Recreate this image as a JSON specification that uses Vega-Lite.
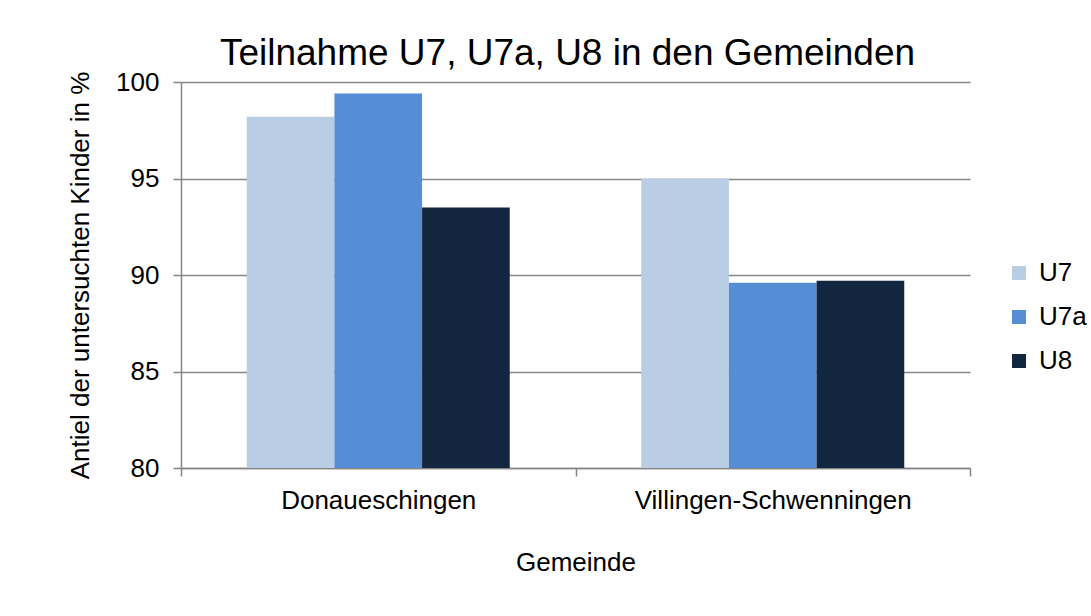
{
  "$schema": "https://vega.github.io/schema/vega-lite/v6.json",
  "autosize": {"type": "none"},
  "width": 789,
  "height": 386,
  "padding": {"left": 181, "top": 82, "right": 121, "bottom": 148},
  "background": "white",
  "config": {
    "font": "Liberation Sans",
    "view": {"stroke": null},
    "axis": {
      "labelFont": "Liberation Sans",
      "titleFont": "Liberation Sans",
      "labelColor": "black",
      "titleColor": "black",
      "titleFontWeight": "normal",
      "labelLimit": 0,
      "domainColor": "#868686",
      "domainWidth": 1.5,
      "tickColor": "#868686",
      "tickWidth": 1.5,
      "gridColor": "#868686",
      "gridWidth": 1.5
    }
  },
  "title": {
    "text": "Teilnahme U7, U7a, U8 in den Gemeinden",
    "font": "Liberation Sans",
    "fontSize": 37,
    "fontWeight": "normal",
    "color": "black",
    "anchor": "middle",
    "dx": -8,
    "offset": -4
  },
  "data": {
    "values": [
      {"Gemeinde": "Donaueschingen", "Untersuchung": "U7", "Anteil": 98.2},
      {"Gemeinde": "Donaueschingen", "Untersuchung": "U7a", "Anteil": 99.4},
      {"Gemeinde": "Donaueschingen", "Untersuchung": "U8", "Anteil": 93.5},
      {"Gemeinde": "Villingen-Schwenningen", "Untersuchung": "U7", "Anteil": 95.0},
      {"Gemeinde": "Villingen-Schwenningen", "Untersuchung": "U7a", "Anteil": 89.6},
      {"Gemeinde": "Villingen-Schwenningen", "Untersuchung": "U8", "Anteil": 89.7}
    ]
  },
  "mark": {"type": "bar", "clip": true},
  "encoding": {
    "x": {
      "field": "Gemeinde",
      "type": "nominal",
      "scale": {"paddingInner": 0, "paddingOuter": 0},
      "axis": {
        "title": "Gemeinde",
        "labelAngle": 0,
        "labelFontSize": 26,
        "titleFontSize": 26,
        "tickBand": "extent",
        "tickSize": 8,
        "labelPadding": 11,
        "titlePadding": 36,
        "grid": false
      }
    },
    "xOffset": {
      "field": "Untersuchung",
      "type": "nominal",
      "sort": ["U7", "U7a", "U8"],
      "scale": {"paddingInner": 0, "paddingOuter": 0.75}
    },
    "y": {
      "field": "Anteil",
      "type": "quantitative",
      "scale": {"domain": [80, 100], "nice": false, "zero": false},
      "axis": {
        "title": "Antiel der untersuchten Kinder in %",
        "values": [80, 85, 90, 95, 100],
        "labelFontSize": 26,
        "titleFontSize": 26,
        "tickSize": 8,
        "labelPadding": 14,
        "titlePadding": 22,
        "grid": true
      }
    },
    "color": {
      "field": "Untersuchung",
      "type": "nominal",
      "sort": ["U7", "U7a", "U8"],
      "scale": {"domain": ["U7", "U7a", "U8"], "range": ["#B9CDE5", "#558ED5", "#13263F"]},
      "legend": {
        "title": null,
        "orient": "none",
        "legendX": 825,
        "legendY": 178,
        "symbolType": "square",
        "symbolSize": 196,
        "symbolStrokeWidth": 0,
        "labelFontSize": 26,
        "labelFont": "Liberation Sans",
        "labelColor": "black",
        "labelOffset": 7,
        "rowPadding": 18
      }
    }
  }
}
